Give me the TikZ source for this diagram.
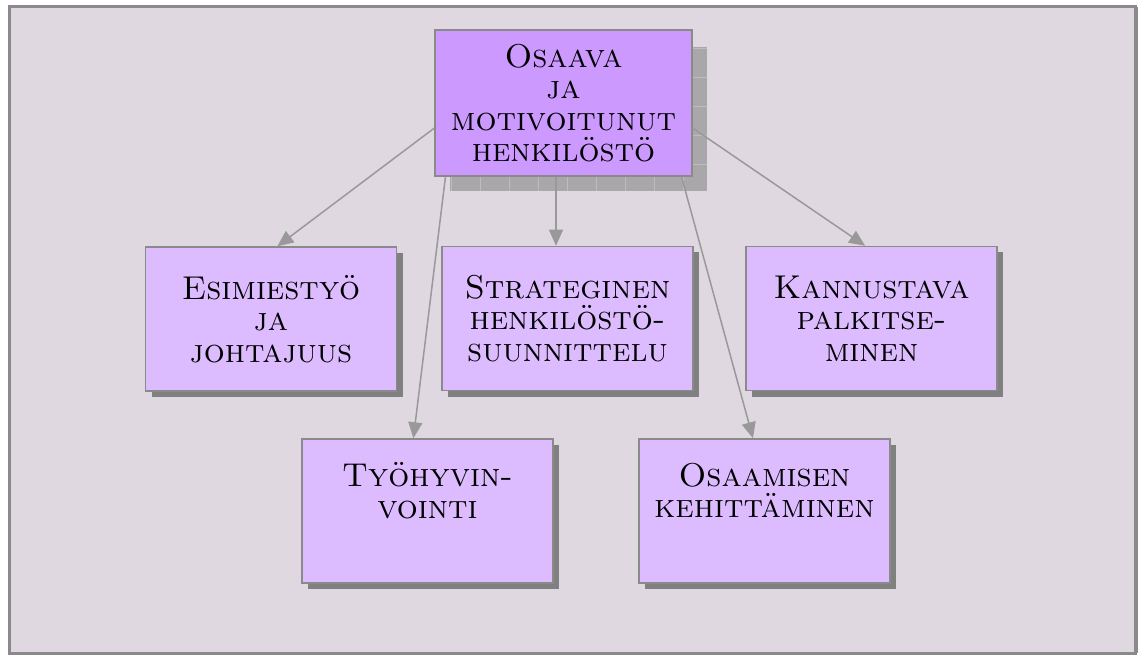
\documentclass[tikz,border=0pt]{standalone}
\usepackage{fontspec}
\usetikzlibrary{arrows.meta,calc,shadows}
\definecolor{panelbg}{HTML}{E0D8E0}
\definecolor{frame}{HTML}{8A8A8A}
\definecolor{topfill}{HTML}{CC99FF}
\definecolor{boxfill}{HTML}{DDBBFF}
\definecolor{shade}{HTML}{808080}
\definecolor{texture}{HTML}{A9A7A9}
\definecolor{gridc}{HTML}{BDBBBD}
\definecolor{arrowc}{HTML}{999999}
\begin{document}
\begin{tikzpicture}[x=1pt,y=-1pt,
  txt/.style={font=\fontsize{33}{31.5}\selectfont\scshape, align=center, text=black},
  box/.style={draw=frame, line width=1.5pt, fill=boxfill, inner sep=0pt,
    minimum width=251pt, minimum height=144pt, txt,
    drop shadow={shadow xshift=6pt, shadow yshift=-6pt, fill=shade, opacity=1}},
  topbox/.style={draw=frame, line width=1.5pt, fill=topfill, inner sep=0pt,
    minimum width=257pt, minimum height=146pt, txt},
  link/.style={draw=arrowc, line width=1.5pt, -{Triangle[length=16pt,width=14pt]}}
]
\useasboundingbox (0,0) rectangle (1138,655);
% panel
\fill[white] (0,0) rectangle (1138,655);
\draw[frame, line width=3pt, fill=panelbg] (9,7) rectangle (1135,653);
\draw[frame, line width=3pt] (1136,7) -- (1136,653);

% textured shadow behind the top box
\begin{scope}
  \clip (450,47) rectangle (707,191);
  \fill[texture] (450,47) rectangle (707,191);
  \draw[gridc, line width=0.8pt, shift={(480,77)}, step=29pt] (-58,-58) grid (261,145);
\end{scope}

\node[topbox] (top) at (563.5,103) {Osaava\\ja\\motivoitunut\\henkilöstö};

\node[box] (esim)  at (271,319)     {Esimiestyö\\ja\\johtajuus};
\node[box] (strat) at (567.5,318.5) {Strateginen\\henkilöstö-\\suunnittelu};
\node[box] (kann)  at (871.5,318.5) {Kannustava\\palkitse-\\minen};
\node[box] (tyo)   at (427.5,511)   {Työhyvin-\\vointi\\\strut};
\node[box] (osa)   at (764.5,511)   {Osaamisen\\kehittäminen\\\strut};

% connectors
\draw[link] (top.191) -- (esim.85);
\draw[link] (top.212) -- (tyo.101);
\draw[link] ([xshift=-7.5pt]top.south) -- ([xshift=-7.5pt]top.south |- strat.north);
\draw[link] (top.328) -- (osa.99);
\draw[link] (top.349) -- (kann.95);
\end{tikzpicture}
\end{document}
